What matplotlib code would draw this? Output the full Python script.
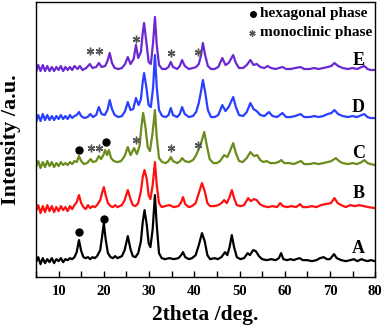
import matplotlib
matplotlib.use("Agg")
import matplotlib.pyplot as plt
from matplotlib.ticker import MultipleLocator

plt.rcParams['font.family'] = ['Liberation Serif', 'DejaVu Serif']
plt.rcParams['font.weight'] = 'bold'

# XRD patterns, intensity in arbitrary (offset) units
tt_A = [5, 5.5, 6, 6.5, 7, 7.5, 8, 8.5, 9, 9.5, 10, 10.5, 11, 11.5, 12, 12.5, 13, 13.5, 14.0, 14.5, 15.0, 15.5,
        16, 16.5, 17, 17.5, 18, 18.5, 19.2, 19.6, 20.0, 20.4, 20.9, 21.5, 22, 22.5, 23, 23.5, 24, 24.6, 25.3, 25.9,
        26.4, 27, 27.6, 28.2, 28.6, 29.0, 29.5, 29.9, 30.3, 30.8, 31.3, 31.7, 32.2, 32.8, 33.5, 34.5, 35.5, 36.5,
        37.1, 37.5, 38.0, 38.8, 39.5, 40.3, 41.0, 41.7, 42.3, 42.9, 43.5, 44.5, 45.2, 46, 46.8, 47.3, 47.8, 48.3,
        48.8, 49.4, 50.2, 51, 51.8, 52.3, 53, 53.6, 54.3, 55, 56, 57, 58, 58.7, 59.2, 59.7, 60.5, 61.3, 62, 62.5,
        63.3, 64, 65, 66, 67, 67.8, 68.6, 69.3, 70, 70.9, 71.5, 72.5, 73.5, 74.5, 75.3, 76, 77, 77.5, 78.3, 79, 80]
int_A = [15, 20, 13, 19, 14, 18, 15, 19, 14, 18, 16, 19, 15, 18, 17, 19, 18, 20, 25, 37, 26, 20,
         19, 20, 18, 20, 19, 21, 27, 40, 54, 38, 24, 20, 19, 21, 19, 20, 21, 27, 41, 28,
         21, 20, 24, 36, 55, 67, 52, 34, 30, 48, 82, 52, 24, 19, 18, 19, 18, 19,
         22, 25, 20, 18, 19, 22, 32, 44, 36, 22, 18, 19, 18, 20, 25, 22, 30, 42,
         30, 20, 18, 19, 24, 22, 27, 26, 21, 18, 17, 18, 17, 19, 24, 18, 17, 18, 17, 18,
         19, 17, 17, 16, 17, 19, 20, 18, 18, 23, 19, 17, 16, 17, 18, 16, 18, 17, 16, 17, 16]

tt_B = [5, 5.5, 6, 6.5, 7, 7.5, 8, 8.5, 9, 9.5, 10, 10.5, 11, 11.5, 12, 12.5, 13, 13.5, 14.0, 14.5, 15.0, 15.5,
        16, 16.5, 17, 17.5, 18, 18.5, 19.2, 19.6, 20.0, 20.4, 20.9, 21.5, 22, 22.5, 23, 23.5, 24, 24.6, 25.3, 25.9,
        26.4, 27, 27.6, 28.2, 28.6, 29.0, 29.5, 29.9, 30.3, 30.8, 31.3, 31.7, 32.2, 32.8, 33.5, 34.5, 35.5, 36.5,
        37.1, 37.5, 38, 38.8, 39.5, 40.3, 41, 41.7, 42.3, 42.9, 43.5, 44.5, 45.3, 46, 46.6, 47.2, 47.8, 48.3,
        48.8, 49.4, 50.2, 51, 51.9, 52.5, 53.2, 53.8, 54.5, 55.3, 56.3, 57.3, 58.3, 59, 59.6, 60.5, 61.5, 62.5,
        63.4, 64, 65, 66, 67, 68, 69, 70.2, 71.0, 71.7, 72.5, 73.5, 74.5, 75.5, 76.5, 77.5, 78.5, 80]
int_B = [66, 72, 64, 71, 65, 72, 66, 71, 65, 70, 66, 71, 67, 70, 66, 71, 68, 72, 75, 82, 74, 70,
         68, 72, 69, 71, 70, 72, 77, 84, 90, 82, 74, 71, 70, 72, 70, 71, 72, 77, 87, 78,
         72, 71, 74, 86, 100, 107, 98, 82, 78, 92, 115, 92, 74, 70, 71, 72, 70, 71,
         75, 80, 73, 70, 71, 74, 84, 94, 86, 74, 71, 71, 72, 74, 77, 74, 80, 87,
         79, 72, 71, 72, 79, 76, 78, 77, 73, 71, 70, 71, 70, 74, 71, 70, 71, 70,
         73, 70, 70, 71, 70, 72, 73, 74, 79, 74, 72, 70, 72, 71, 72, 71, 70, 69]

tt_C = [5, 5.5, 6, 6.5, 7, 7.5, 8, 8.5, 9, 9.5, 10, 10.5, 11, 11.5, 12, 12.5, 13, 13.5, 14.0, 14.5, 15.0, 15.6,
        16.3, 17.1, 17.6, 18.3, 18.9, 19.4, 19.9, 20.3, 20.7, 21.1, 21.6, 22.2, 23, 23.8, 24.6, 25.3, 25.9, 26.7,
        27.3, 27.9, 28.3, 28.7, 29.2, 29.7, 30.2, 30.8, 31.3, 31.7, 32.2, 32.9, 33.7, 34.3, 34.8, 35.3, 36.2, 36.9,
        37.3, 37.9, 38.8, 39.7, 40.3, 40.9, 41.5, 42.2, 42.8, 43.4, 44.2, 45, 45.7, 46.6, 47.3, 47.9, 48.6, 49.2,
        49.9, 50.7, 51.6, 52.4, 53.2, 53.9, 54.6, 55.3, 56, 56.8, 57.8, 58.6, 59.2, 59.9, 61, 62, 63, 63.6, 64.3,
        65.5, 66.5, 67.5, 68.5, 69.5, 70.3, 71.3, 72, 72.8, 74, 75, 76, 77, 77.6, 78.3, 79, 80]
int_C = [110, 116, 109, 115, 110, 116, 111, 115, 110, 114, 111, 115, 112, 114, 112, 115, 113, 116, 115, 121, 116, 113,
         114, 118, 115, 116, 121, 118, 122, 127, 122, 127, 119, 116, 115, 116, 121, 130, 122, 129,
         123, 131, 150, 164, 150, 130, 126, 145, 167, 140, 119, 115, 114, 116, 120, 116, 114, 116,
         119, 116, 115, 117, 121, 127, 134, 145, 131, 118, 114, 114, 116, 122, 120, 126, 134, 124,
         116, 115, 119, 125, 121, 122, 117, 115, 116, 114, 114, 115, 117, 114, 114, 113, 115, 116, 113,
         113, 114, 113, 114, 115, 116, 119, 116, 114, 113, 114, 113, 115, 117, 114, 113, 112]

tt_D = [5, 5.5, 6, 6.5, 7, 7.5, 8, 8.5, 9, 9.5, 10, 10.5, 11, 11.5, 12, 12.5, 13, 13.5, 14.0, 14.5, 15.0, 15.7,
        16.4, 17.0, 17.6, 18.3, 18.9, 19.5, 20.2, 20.8, 21.3, 21.8, 22.4, 23.2, 24, 24.7, 25.3, 25.9, 26.5, 27.1,
        27.7, 28.2, 28.6, 28.9, 29.4, 29.9, 30.4, 30.9, 31.3, 31.7, 32.2, 32.9, 33.7, 34.3, 34.8, 35.3, 36.2, 36.8,
        37.3, 37.9, 38.8, 39.7, 40.4, 41.0, 41.5, 41.9, 42.4, 43.0, 43.7, 44.5, 45.3, 46.2, 46.9, 47.6, 48.6, 49.2,
        49.9, 50.8, 51.6, 52.4, 53.1, 53.8, 54.6, 55.5, 56.5, 57.3, 58.3, 59.5, 60.3, 61.3, 62.3, 63.5, 64.3,
        65.5, 66.5, 67.5, 68.5, 69.5, 70.3, 71.0, 71.8, 72.8, 74, 75, 76, 77, 77.6, 78.3, 79, 80]
int_D = [155, 162, 156, 163, 157, 162, 157, 161, 157, 161, 158, 162, 158, 161, 158, 162, 159, 161, 162, 165, 161, 159,
         160, 163, 160, 162, 170, 163, 162, 167, 177, 168, 162, 160, 161, 166, 175, 167, 168, 179,
         172, 178, 195, 204, 190, 172, 170, 190, 222, 190, 167, 161, 160, 162, 169, 162, 160, 163,
         170, 163, 160, 161, 165, 174, 186, 197, 185, 167, 160, 160, 162, 172, 166, 170, 180, 170,
         162, 161, 165, 174, 168, 166, 162, 161, 165, 161, 160, 164, 160, 160, 161, 163, 160,
         160, 161, 160, 161, 163, 164, 167, 163, 161, 160, 161, 160, 162, 163, 160, 159, 159]

tt_E = [5, 5.5, 6, 6.5, 7, 7.5, 8, 8.5, 9, 9.5, 10, 10.5, 11, 11.5, 12, 12.5, 13, 13.5, 14.2, 14.7, 15.3, 16.1,
        16.9, 17.5, 18.3, 18.9, 19.5, 20.3, 20.8, 21.3, 21.8, 22.4, 23.2, 24, 24.7, 25.3, 25.9, 26.6, 27.1, 27.6,
        28.2, 28.6, 28.9, 29.4, 29.9, 30.4, 30.9, 31.3, 31.7, 32.2, 32.9, 33.7, 34.3, 34.8, 35.3, 36.2, 36.8, 37.3,
        37.9, 38.8, 39.7, 40.4, 41.0, 41.5, 41.9, 42.4, 43.0, 43.7, 44.5, 45.3, 46.2, 46.9, 47.6, 48.6, 49.2, 49.9,
        50.8, 51.6, 52.4, 53.1, 53.8, 54.6, 55.5, 56.2, 57, 58, 59.5, 60.3, 61.3, 62.3, 63.5, 64.3, 65.5, 66.5,
        67.5, 68.5, 69.5, 70.3, 71.0, 71.8, 72.8, 74, 75, 76, 77, 77.6, 78.3, 79, 80]
int_E = [205, 212, 206, 212, 206, 211, 206, 210, 206, 210, 207, 211, 206, 210, 207, 210, 207, 211, 208, 211, 207, 209,
         213, 209, 210, 214, 210, 211, 216, 224, 214, 209, 208, 209, 213, 220, 213, 218, 232, 219,
         225, 244, 254, 235, 215, 213, 235, 260, 232, 212, 208, 208, 210, 215, 210, 208, 211, 217,
         211, 208, 209, 210, 213, 222, 234, 222, 211, 208, 208, 210, 219, 212, 214, 222, 214, 209,
         209, 212, 217, 212, 213, 210, 209, 211, 209, 208, 210, 208, 208, 209, 210, 208, 208, 209,
         208, 209, 210, 211, 214, 211, 209, 208, 209, 208, 210, 211, 208, 207, 207]

# phase markers
hex_x = [14.5, 20.0, 14.4, 20.4]
hex_y = [45, 58, 127, 135]
mono_x = [17.1, 18.9, 27.1, 34.8, 40.8, 16.9, 18.9, 27.1, 34.8, 40.8]
mono_y = [129, 129, 137, 129, 132, 226, 226, 238, 224, 225]

names = ['A', 'B', 'C', 'D', 'E']
label_y = [29, 84, 124, 170, 217]
colors = ['black', '#ff1010', '#6a8c1c', '#2a40ff', '#6a28d2']

fig = plt.figure(figsize=(3.85, 3.28), dpi=100)
ax = fig.add_axes([0.0935, 0.155, 0.881, 0.839])

curves = [(tt_A, int_A), (tt_B, int_B), (tt_C, int_C), (tt_D, int_D), (tt_E, int_E)]
for (tt, inten), c in zip(curves, colors):
    ax.plot(tt, inten, color=c, lw=1.6)

ax.plot(hex_x, hex_y, 'o', color='black', ms=5)
ax.plot(mono_x, mono_y, ls='none', marker=(6, 2, 0), color='#555555', ms=5.5, mew=1.0)

for n, y in zip(names, label_y):
    ax.text(76.3, y, n, fontsize=13, fontweight='bold', ha='center', va='center')

# legend drawn by hand like the original
ax.plot([53.0], [263], 'o', color='black', ms=4)
ax.plot([52.8], [244], ls='none', marker=(6, 2, 0), color='#555555', ms=4.5, mew=1.0)
ax.text(54.6, 263, 'hexagonal phase', fontsize=11, fontweight='bold', va='center')
ax.text(54.6, 244, 'monoclinic phase', fontsize=11, fontweight='bold', va='center')

ax.set_xlim(5, 80)
ax.set_ylim(0, 275)
ax.set_yticks([])
ax.xaxis.set_major_locator(MultipleLocator(10))
ax.xaxis.set_minor_locator(MultipleLocator(5))
ax.tick_params(axis='x', which='both', direction='in', length=4, width=1)
ax.tick_params(axis='x', labelsize=10.5, pad=6)
for lab in ax.get_xticklabels():
    lab.set_fontweight('bold')
for s in ax.spines.values():
    s.set_linewidth(1.0)

ax.set_xlabel('2theta /deg.', fontsize=15.5, fontweight='bold')
ax.set_ylabel('Intensity /a.u.', fontsize=16, fontweight='bold')
ax.xaxis.set_label_coords(0.5, -0.1)
ax.yaxis.set_label_coords(-0.045, 0.5)

fig.savefig('out.png', dpi=100)
